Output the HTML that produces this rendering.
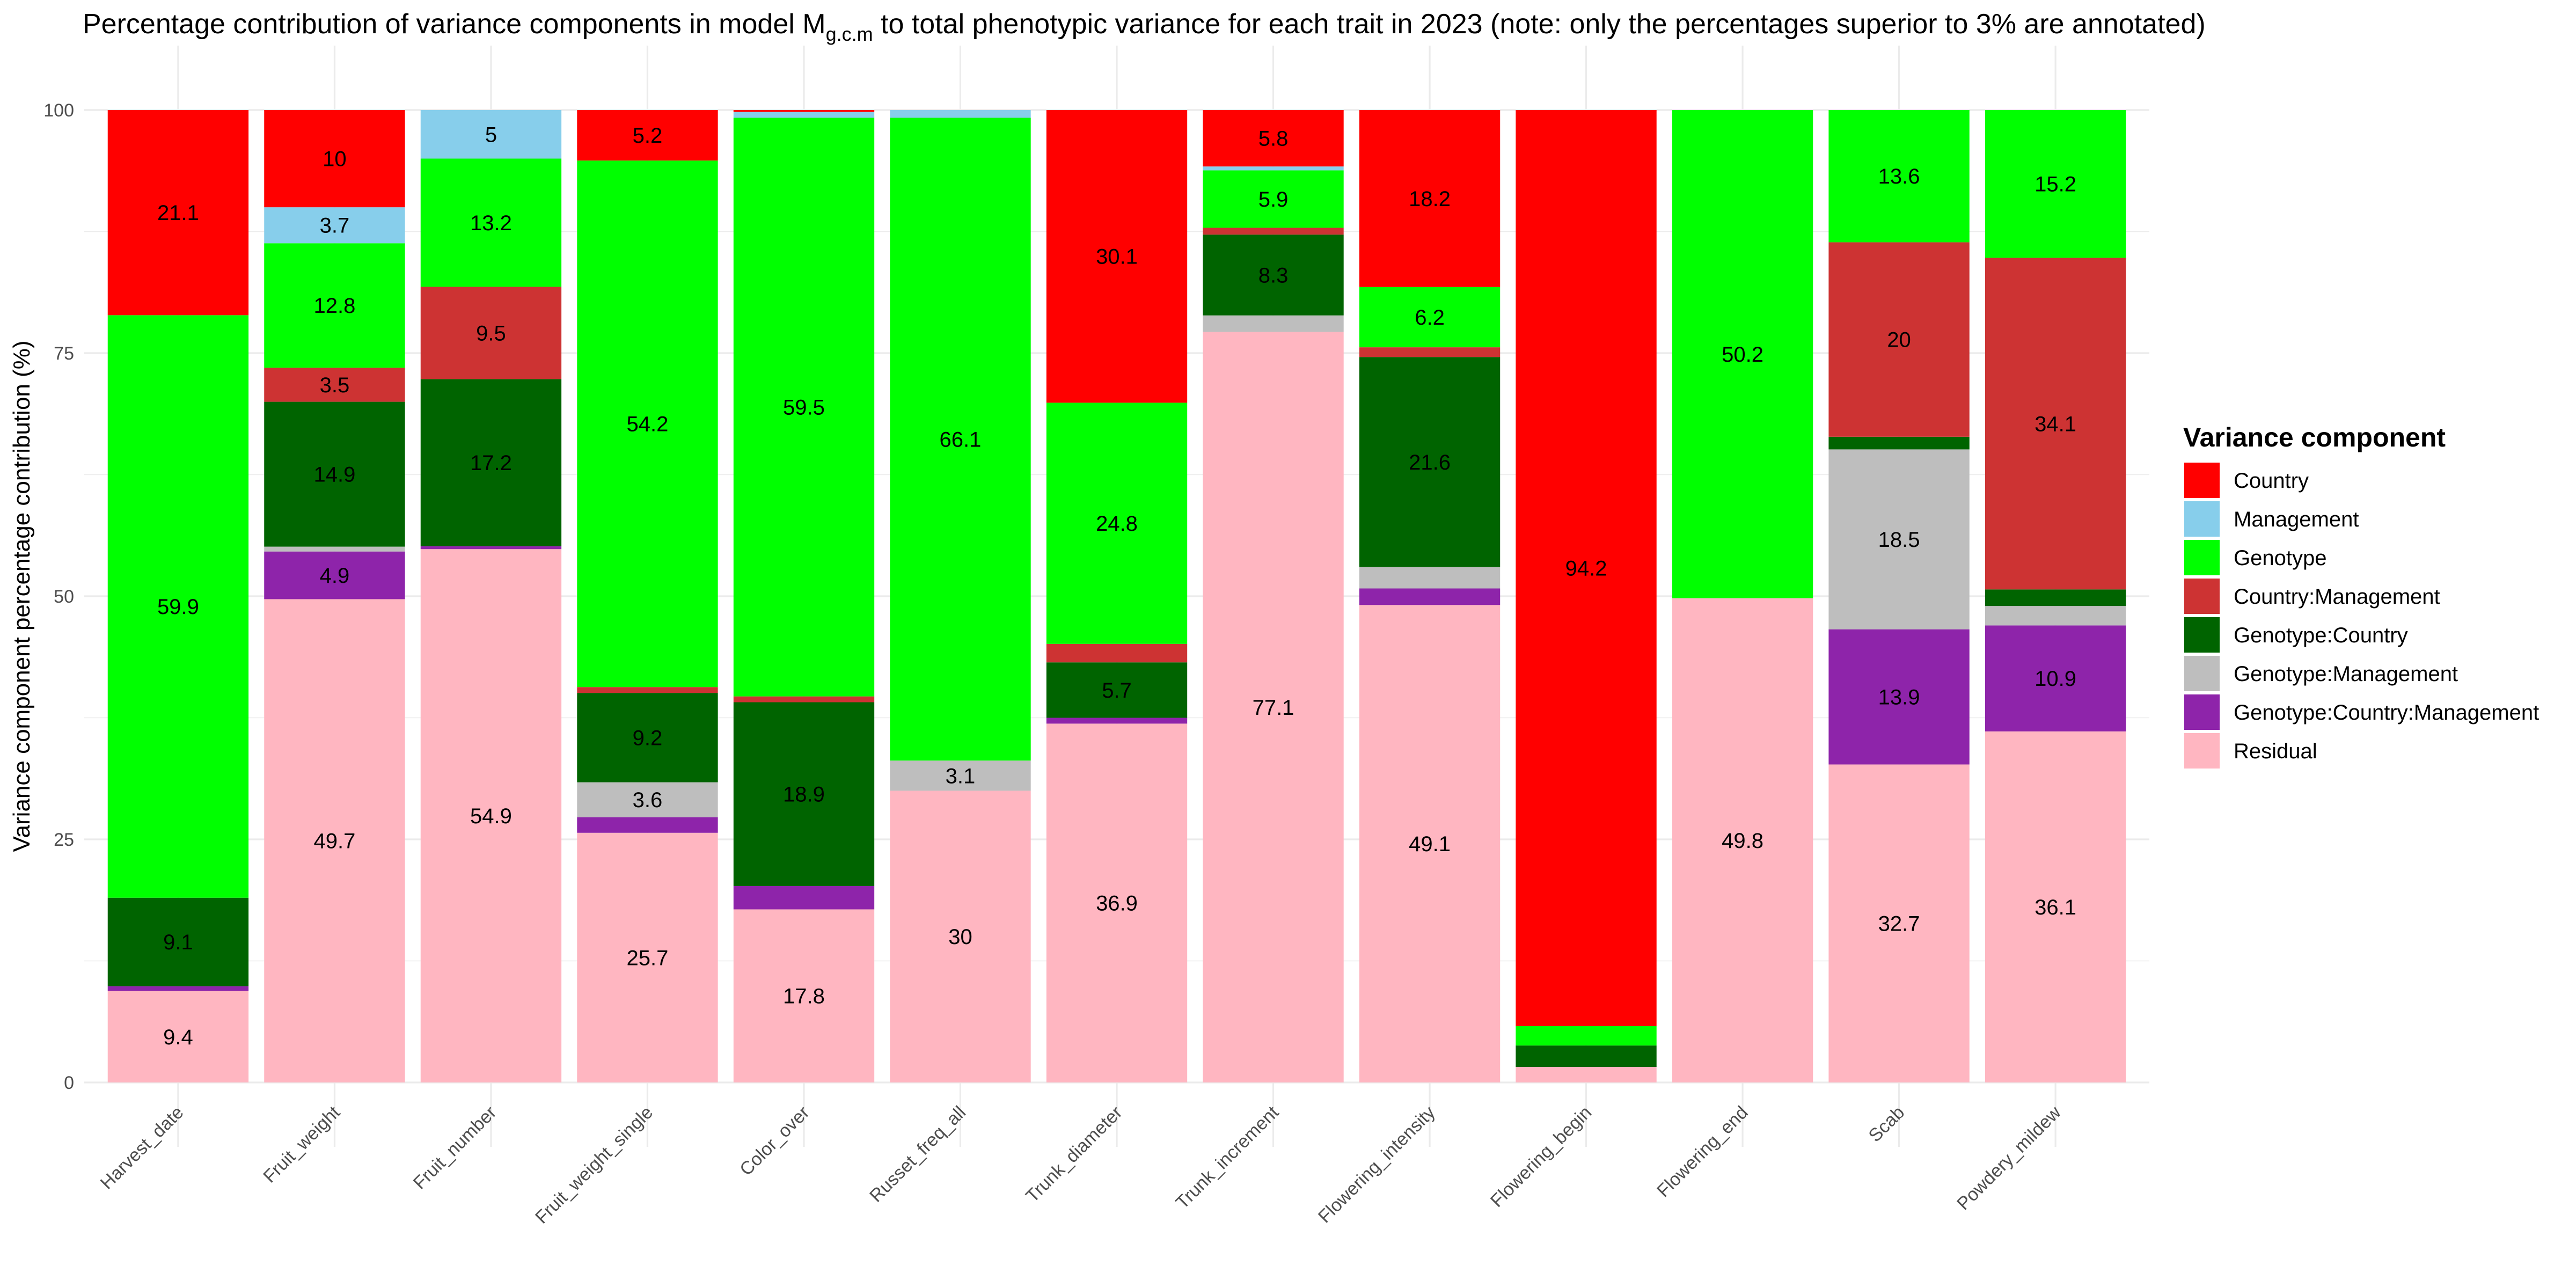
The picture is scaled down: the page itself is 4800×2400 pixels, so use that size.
<!DOCTYPE html>
<html><head><meta charset="utf-8"><style>
html,body{margin:0;padding:0;background:#fff;}
svg{display:block;font-family:"Liberation Sans",sans-serif;}
</style></head><body>
<svg id="chart" width="4800" height="2400" viewBox="0 0 4800 2400" xmlns="http://www.w3.org/2000/svg">
<text x="154" y="62" font-size="52" fill="#000">Percentage contribution of variance components in model M<tspan font-size="36" dy="14">g.c.m</tspan><tspan dy="-14"> to total phenotypic variance for each trait in 2023 (note: only the percentages superior to 3% are annotated)</tspan></text>
<g id="grid"></g>
<g id="bars"></g>
<g id="labels"></g>
<g id="axes"></g>
<text transform="translate(55,1111) rotate(-90)" text-anchor="middle" font-size="44" fill="#000">Variance component percentage contribution (%)</text>
<g id="legend">
<text x="4068" y="832" font-size="50" font-weight="bold" fill="#000">Variance component</text>
</g>
</svg>
<script>
const traits = ["Harvest_date","Fruit_weight","Fruit_number","Fruit_weight_single","Color_over","Russet_freq_all","Trunk_diameter","Trunk_increment","Flowering_intensity","Flowering_begin","Flowering_end","Scab","Powdery_mildew"];
const components = ["Residual","Genotype:Country:Management","Genotype:Management","Genotype:Country","Country:Management","Genotype","Management","Country"];
const residual = [9.4,49.7,54.9,25.7,17.8,30,36.9,77.1,49.1,1.6,49.8,32.7,36.1];
const gcm      = [0.5,4.9,0.3,1.6,2.4,0,0.6,0,1.7,0,0,13.9,10.9];
const gm       = [0,0.5,0,3.6,0,3.1,0,1.7,2.2,0,0,18.5,2.0];
const gc       = [9.1,14.9,17.2,9.2,18.9,0,5.7,8.3,21.6,2.2,0,1.3,1.7];
const cm       = [0,3.5,9.5,0.6,0.6,0,1.9,0.7,1.0,0,0,20,34.1];
const genotype = [59.9,12.8,13.2,54.2,59.5,66.1,24.8,5.9,6.2,2.0,50.2,13.6,15.2];
const management = [0,3.7,5,0,0.6,0.8,0,0.4,0,0,0,0,0];
const country  = [21.1,10,0,5.2,0.2,0,30.1,5.8,18.2,94.2,0,0,0];
const yTicks = [0,25,50,75,100];
const series = [residual,gcm,gm,gc,cm,genotype,management,country];
const colors = ["#FFB6C1","#8E24AA","#BEBEBE","#006400","#CD3333","#00FF00","#87CEEB","#FF0000"];
const legendOrder = [7,6,5,4,3,2,1,0];

const NS="http://www.w3.org/2000/svg";
const X0=157, X1=4005, Y0=2017, Y100=205;
const step=(X1-X0)/(traits.length+0.2);
function xc(i){return X0+0.6*step+i*step;}
const bw=step*0.9;
function ys(v){return Y0-(Y0-Y100)*v/100;}
function mk(tag,attrs,parent){const e=document.createElementNS(NS,tag);for(const k in attrs)e.setAttribute(k,attrs[k]);parent.appendChild(e);return e;}
const grid=document.getElementById('grid'),bars=document.getElementById('bars'),labels=document.getElementById('labels'),axes=document.getElementById('axes'),legend=document.getElementById('legend');

for(let t=12.5;t<100;t+=25){
 const l=mk('line',{x1:X0,x2:X1,y1:ys(t),y2:ys(t),stroke:'#ebebeb','stroke-width':1.6},grid);
 
 
}
yTicks.forEach(t=>{
 const l=mk('line',{x1:X0,x2:X1,y1:ys(t),y2:ys(t),stroke:'#ebebeb','stroke-width':3.2},grid);
 
 
 const tx=mk('text',{x:138,y:ys(t)+12,'text-anchor':'end','font-size':34,fill:'#4d4d4d'},axes);
 tx.textContent=t;
 
 
});
traits.forEach((tr,i)=>{
 const l=mk('line',{x1:xc(i),x2:xc(i),y1:Y100-120,y2:Y0+120,stroke:'#ebebeb','stroke-width':3.2},grid);
 
 
 let total=0; series.forEach(s=>{total+=s[i];});
 const f=100/total;
 let cum=0;
 series.forEach((s,k)=>{
  const v=s[i]; if(v<=0) return;
  const h=v*f;
  const r=mk('rect',{x:xc(i)-bw/2,y:ys(cum+h),width:bw,height:ys(cum)-ys(cum+h),fill:colors[k]},bars);
  
  
  if(v>3){
   const tx=mk('text',{x:xc(i),y:ys(cum+h/2)+14,'text-anchor':'middle','font-size':40,fill:'#000'},labels);
   tx.textContent=String(v);
   
   
  }
  cum+=h;
 });
 const tl=mk('text',{transform:`translate(${xc(i)+12},${Y0+58}) rotate(-45)`,'text-anchor':'end','font-size':34,fill:'#4d4d4d'},axes);
 tl.textContent=tr;
 
 
});
legendOrder.forEach((k,j)=>{
 const y=862+j*72;
 const r=mk('rect',{x:4070,y:y,width:66,height:66,fill:colors[k]},legend);
 
 
 const tx=mk('text',{x:4162,y:y+47,'font-size':40,fill:'#000'},legend);
 tx.textContent=components[k];
 
 
});
</script>
</body></html>
